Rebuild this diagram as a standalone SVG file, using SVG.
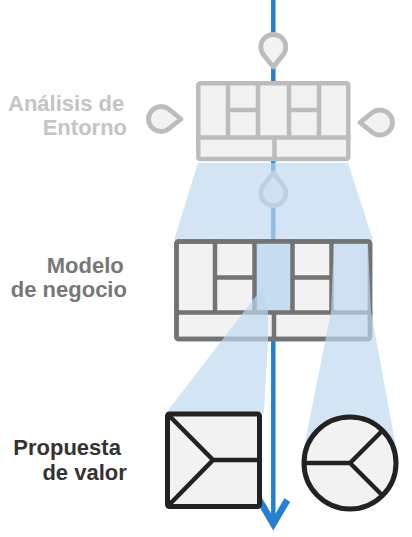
<svg xmlns="http://www.w3.org/2000/svg" width="412" height="537" viewBox="0 0 412 537">
  <style>
    .lbl { font-family: "Liberation Sans", Arial, Helvetica, sans-serif; font-weight: bold; font-size: 22px; }
    .faint { fill: #c4c4c4; }
    .mid { fill: #777777; }
    .dark { fill: #333333; }
    .cvF rect, .cvF path { stroke: #bcbcbc; }
    .cvM rect, .cvM path { stroke: #737373; }
    .cv rect { fill: #f2f2f2; stroke-width: 4.5; }
    .cv path { fill: none; stroke-width: 4.5; stroke-linecap: square; }
    .pin { fill: #f2f2f2; stroke: #bcbcbc; stroke-width: 4.8; stroke-linejoin: round; }
    .proj { fill: #bfd8ef; fill-opacity: 0.69; }
    .vp rect, .vp circle { fill: #f2f2f2; stroke: #222222; stroke-width: 5; }
    .vp path { fill: none; stroke: #222222; stroke-width: 4.5; }
    .flow { fill: none; stroke: #2380d5; stroke-width: 4.5; }
  </style>
  <defs>
    <path id="drop" d="M-9.8,7.76 A12.5,12.5 0 1 1 9.8,7.76 L0,20 Z"/>
    <marker id="chev" markerUnits="userSpaceOnUse" markerWidth="40" markerHeight="40" viewBox="-25 -15 30 30" refX="0" refY="0" orient="auto" overflow="visible">
      <path d="M-18,-10.5 L0,0 L-18,10.5" fill="none" stroke="#2380d5" stroke-width="5"/>
    </marker>
  </defs>

  <g id="connectors">
    <path class="flow" d="M273.3,0 L273.3,524" marker-end="url(#chev)"/>
  </g>

  <g id="entorno">
    <use href="#drop" class="pin" transform="translate(273.3,47)"/>
    <use href="#drop" class="pin" transform="translate(161,119) rotate(-90)"/>
    <use href="#drop" class="pin" transform="translate(380,122.5) rotate(90)"/>
    <g class="cv cvF">
      <rect x="198.3" y="83.3" width="150" height="75.7" rx="2"/>
      <path d="M228,83.3 V137.5 M258,83.3 V137.5 M289,83.3 V137.5 M319,83.3 V137.5 M198.3,137.5 H348.3 M228,110 H258 M289,110 H319 M274.5,137.5 V159"/>
    </g>
    <text class="lbl faint" x="8" y="110.5">Análisis de</text>
    <text class="lbl faint" x="42.7" y="134.5">Entorno</text>
  </g>

  <g id="entorno-pin-in">
    <use href="#drop" class="pin" transform="translate(273.3,193) rotate(180)"/>
  </g>

  <g id="projection-top">
    <polygon class="proj" points="198,163 348,163 373,240 174,240"/>
  </g>

  <g id="modelo">
    <g class="cv cvM">
      <rect x="176.5" y="241.5" width="193.5" height="97.5" rx="2"/>
      <rect x="254.5" y="241.5" width="38" height="71" style="fill:#c6dcf1;stroke:none"/>
      <path d="M215,241.5 V312.5 M254.5,241.5 V312.5 M292.5,241.5 V312.5 M331.5,241.5 V312.5 M176.5,312.5 H370 M215,277.5 H254.5 M292.5,277.5 H331.5 M274,312.5 V339"/>
      <rect x="176.5" y="241.5" width="193.5" height="97.5" rx="2" style="fill:none"/>
    </g>
    <text class="lbl mid" x="46.7" y="273">Modelo</text>
    <text class="lbl mid" x="10.8" y="297">de negocio</text>
  </g>

  <g id="projections">
    <polygon class="proj" points="263,287 268,312 268,341 264,413 166,413"/>
    <polygon class="proj" points="333.8,243.8 368,243.8 371,312 397,452 303,452 331,312"/>
  </g>

  <g id="propuesta">
    <g class="vp">
      <rect x="167.5" y="414" width="92" height="92.5" rx="2"/>
      <path d="M167.5,414 L213,460 L167.5,506.5 M213,460 H259.5"/>
    </g>
    <g class="vp">
      <circle cx="350" cy="463" r="46"/>
      <path d="M304,463 H350 L382.5,430.5 M350,463 L382.5,495.5"/>
    </g>
    <text class="lbl dark" x="13.3" y="455">Propuesta</text>
    <text class="lbl dark" x="42.4" y="480">de valor</text>
  </g>
</svg>
